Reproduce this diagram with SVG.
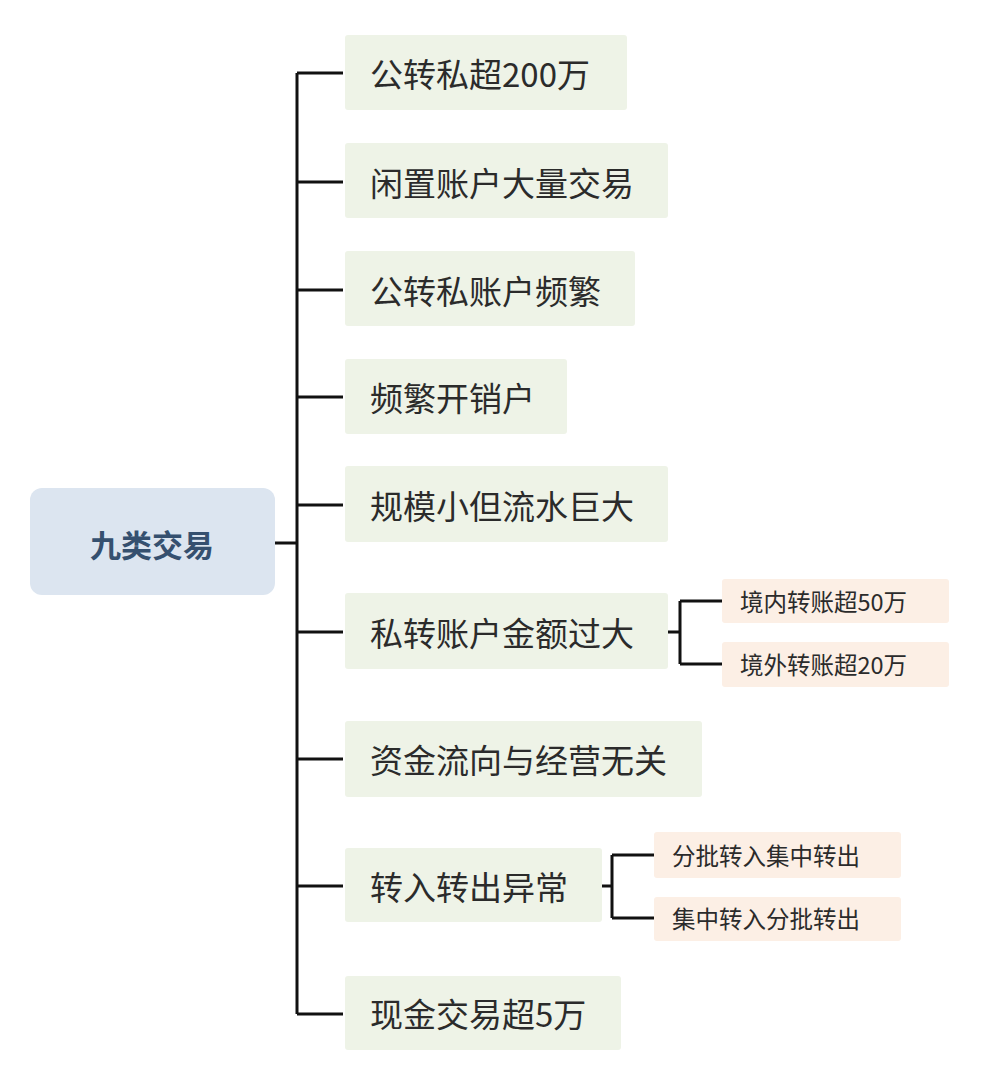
<svg xmlns="http://www.w3.org/2000/svg" width="988" height="1088" viewBox="0 0 988 1088">
<style>
.m{fill:#eef3e7}
.s{fill:#fcefe5}
.t{font-family:"Noto Sans CJK SC","Liberation Sans",sans-serif;font-size:33px;fill:#2b2b2b;dominant-baseline:central}
.ts{font-family:"Noto Sans CJK SC","Liberation Sans",sans-serif;font-size:23.5px;fill:#2b2b2b;dominant-baseline:central}
.c{stroke:#111;stroke-width:3;fill:none}
</style>
<rect width="988" height="1088" fill="#fff"/>
<g id="connectors">
<path class="c" d="M275 543H297M297 73V1014M297 73H343M297 182H343M297 290H343M297 397H343M297 505H343M297 632H343M297 759H343M297 886H343M297 1014H343"/>
<path class="c" d="M668 632H680M680 601V664M680 601H722M680 664H722"/>
<path class="c" d="M602 886H612M612 855V918M612 855H654M612 918H654"/>
</g>
<g id="root"><rect x="30" y="488" width="245" height="107" rx="12" fill="#dce5f0"/><text x="152" y="543" text-anchor="middle" class="t" style="font-weight:bold;font-size:31px;fill:#35506f">九类交易</text></g>
<g id="n1"><rect class="m" x="345" y="35" width="282" height="75" rx="3"/><text class="t" x="370" y="73">公转私超200万</text></g>
<g id="n2"><rect class="m" x="345" y="143" width="323" height="75" rx="3"/><text class="t" x="370" y="182">闲置账户大量交易</text></g>
<g id="n3"><rect class="m" x="345" y="251" width="290" height="75" rx="3"/><text class="t" x="370" y="290">公转私账户频繁</text></g>
<g id="n4"><rect class="m" x="345" y="359" width="222" height="75" rx="3"/><text class="t" x="370" y="397">频繁开销户</text></g>
<g id="n5"><rect class="m" x="345" y="466" width="323" height="76" rx="3"/><text class="t" x="370" y="505">规模小但流水巨大</text></g>
<g id="n6"><rect class="m" x="345" y="593" width="323" height="76" rx="3"/><text class="t" x="370" y="632">私转账户金额过大</text></g>
<g id="n7"><rect class="m" x="345" y="721" width="357" height="76" rx="3"/><text class="t" x="370" y="759">资金流向与经营无关</text></g>
<g id="n8"><rect class="m" x="345" y="848" width="257" height="74" rx="3"/><text class="t" x="370" y="886">转入转出异常</text></g>
<g id="n9"><rect class="m" x="345" y="976" width="276" height="74" rx="3"/><text class="t" x="370" y="1013">现金交易超5万</text></g>
<g id="s1"><rect class="s" x="722" y="579" width="227" height="44" rx="3"/><text class="ts" x="740" y="601">境内转账超50万</text></g>
<g id="s2"><rect class="s" x="722" y="642" width="227" height="45" rx="3"/><text class="ts" x="740" y="664">境外转账超20万</text></g>
<g id="s3"><rect class="s" x="654" y="832" width="247" height="46" rx="3"/><text class="ts" x="672" y="855">分批转入集中转出</text></g>
<g id="s4"><rect class="s" x="654" y="897" width="247" height="44" rx="3"/><text class="ts" x="672" y="918">集中转入分批转出</text></g>
</svg>
